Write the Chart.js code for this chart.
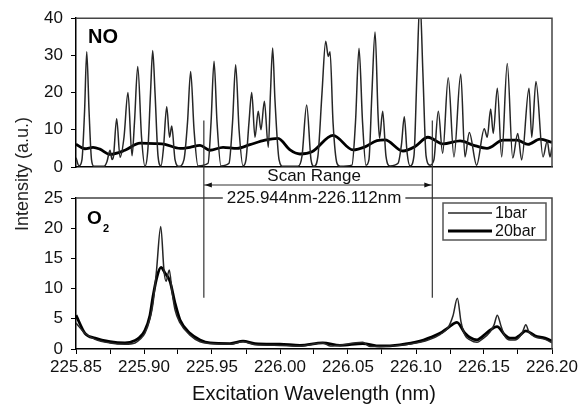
<!DOCTYPE html>
<html lang="en">
<head>
  <meta charset="UTF-8">
  <title>NO / O2 excitation spectra</title>
  <script src="https://cdn.jsdelivr.net/npm/chart.js"></script>
  <style>
    body { margin: 0; background: #fff; }
    #wrap { position: relative; width: 581px; height: 407px; }
    #wrap canvas { position: absolute; left: 0; top: 0; }
  </style>
</head>
<body>
  <div id="wrap">
    <canvas id="noChart" width="581" height="407"></canvas>
    <canvas id="o2Chart" width="581" height="407"></canvas>
  </div>

  <script>
    // NO, 1 bar (thin line)
    const noWave1 = [
      225.8500, 225.8522, 225.8544, 225.8563, 225.8579, 225.8596, 225.8614, 225.8632, 225.8706, 225.8728,
      225.8750, 225.8765, 225.8776, 225.8799, 225.8824, 225.8853, 225.8882, 225.8912, 225.8930, 225.8954,
      225.8982, 225.9007, 225.9029, 225.9048, 225.9064, 225.9081, 225.9103, 225.9125, 225.9143, 225.9167,
      225.9188, 225.9204, 225.9228, 225.9257, 225.9294, 225.9320, 225.9343, 225.9368, 225.9397, 225.9471,
      225.9493, 225.9515, 225.9537, 225.9566, 225.9625, 225.9651, 225.9674, 225.9699, 225.9728, 225.9750,
      225.9772, 225.9792, 225.9816, 225.9840, 225.9860, 225.9885, 225.9914, 225.9930, 225.9946, 225.9963,
      225.9993, 226.0022, 226.0132, 226.0162, 226.0196, 226.0228, 226.0250, 226.0279, 226.0309, 226.0336,
      226.0355, 226.0368, 226.0390, 226.0419, 226.0441, 226.0529, 226.0555, 226.0581, 226.0607, 226.0632,
      226.0654, 226.0676, 226.0699, 226.0721, 226.0732, 226.0755, 226.0779, 226.0809, 226.0868, 226.0893,
      226.0914, 226.0934, 226.0956, 226.0985, 226.1007, 226.1029, 226.1051, 226.1074, 226.1103, 226.1132,
      226.1164, 226.1196, 226.1237, 226.1279, 226.1329, 226.1360, 226.1392, 226.1446, 226.1502, 226.1524,
      226.1549, 226.1568, 226.1598, 226.1630, 226.1671, 226.1711, 226.1748, 226.1777, 226.1831, 226.1851,
      226.1882, 226.1934, 226.1965, 226.1985, 226.2000
    ];
    const noInt1 = [
      2.5, 0.3, 2, 15, 31, 15, 2, 0.2, 0.2, 1.5,
      4.5, 2, 3, 13, 2.6, 8, 20, 3, 12, 27,
      8, 0.2, 5, 20, 31.3, 20, 3, 0.3, 5, 16.2,
      8, 11, 2, 0.2, 2, 12, 25.7, 10, 0.3, 1,
      12, 28.4, 12, 0.3, 1, 12, 27.5, 10, 0.3, 2,
      12, 20, 8, 15, 10, 17.7, 5.3, 20, 32, 18,
      2, 0.2, 0.2, 3, 16.7, 2, 0.2, 3, 20, 33.8,
      29.7, 31, 12, 1, 0.2, 0.5, 12, 31.9, 12, 0.5,
      2, 20, 36.3, 14, 7.7, 15, 3, 0.3, 1, 6,
      13.5, 4, 0.3, 3, 25, 45, 25, 3, 0.5, 2,
      15, 3.7, 24, 2.7, 25, 2.7, 9.3, 0.5, 10.3, 8,
      15.6, 9, 21.2, 2.7, 27.8, 2.4, 9, 1.9, 21.2, 8,
      23, 2.7, 7, 2.7, 5.3
    ];

    // NO, 20 bar (thick line)
    const noWave20 = [
      225.8500, 225.8566, 225.8625, 225.8676, 225.8750, 225.8860, 225.8971, 225.9081, 225.9154, 225.9265,
      225.9338, 225.9412, 225.9485, 225.9581, 225.9684, 225.9779, 225.9890, 225.9985, 226.0074, 226.0147,
      226.0235, 226.0390, 226.0537, 226.0625, 226.0713, 226.0772, 226.0904, 226.0993, 226.1088, 226.1199,
      226.1324, 226.1419, 226.1522, 226.1640, 226.1743, 226.1824, 226.1912, 226.2000
    ];
    const noInt20 = [
      6.1, 4.9, 5.3, 4.8, 3.4, 4.5, 6.4, 6.3, 6.1, 5.0,
      5.3, 5.8, 4.5, 5.3, 5.0, 6.0, 7.2, 7.7, 4.6, 3.5,
      4.1, 8.5, 4.6, 5.4, 7.1, 7.3, 4.3, 5.5, 8.0, 6.2,
      7.0, 5.9, 5.0, 7.2, 7.2, 6.1, 7.5, 6.6
    ];

    // O2, 1 bar (thin line)
    const o2Wave1 = [
      225.8500, 225.8566, 225.8640, 225.8750, 225.8860, 225.8934, 225.8971, 225.9007, 225.9044, 225.9066,
      225.9092, 225.9123, 225.9147, 225.9162, 225.9186, 225.9206, 225.9228, 225.9265, 225.9338, 225.9412,
      225.9485, 225.9632, 225.9728, 225.9816, 226.0000, 226.0147, 226.0314, 226.0368, 226.0608, 226.0662,
      226.0882, 226.1029, 226.1103, 226.1176, 226.1235, 226.1272, 226.1304, 226.1331, 226.1360, 226.1397,
      226.1449, 226.1485, 226.1544, 226.1574, 226.1598, 226.1625, 226.1654, 226.1691, 226.1728, 226.1765,
      226.1787, 226.1807, 226.1831, 226.1875, 226.1949, 226.2000
    ];
    const o2Int1 = [
      4.3, 2.6, 1.6, 1.0, 0.8, 1.0, 1.6, 2.6, 5.0, 7.5,
      13, 20.3, 13, 11.2, 13.1, 9.5, 6.5, 4.3, 2.3, 1.2,
      0.9, 0.8, 1.2, 0.7, 0.6, 0.5, 1.0, 0.5, 1.1, 0.4,
      0.6, 1.1, 1.6, 2.4, 3.5, 5.5, 8.4, 4.5, 2.3, 1.5,
      1.1, 1.6, 2.8, 4.0, 5.6, 3.8, 2.1, 1.5, 1.5, 2.1,
      3.0, 4.0, 2.8, 2.0, 1.6, 1.0
    ];

    // O2, 20 bar (thick line)
    const o2Wave20 = [
      225.8500, 225.8566, 225.8640, 225.8750, 225.8860, 225.8934, 225.8971, 225.9007, 225.9044, 225.9066,
      225.9096, 225.9125, 225.9154, 225.9191, 225.9228, 225.9265, 225.9338, 225.9412, 225.9485, 225.9632,
      225.9728, 225.9816, 226.0000, 226.0147, 226.0314, 226.0441, 226.0608, 226.0735, 226.0882, 226.1029,
      226.1103, 226.1176, 226.1235, 226.1301, 226.1360, 226.1397, 226.1449, 226.1485, 226.1544, 226.1596,
      226.1654, 226.1691, 226.1728, 226.1765, 226.1807, 226.1875, 226.1949, 226.2000
    ];
    const o2Int20 = [
      5.6, 2.6, 1.8, 1.2, 1.0, 1.4, 2.0, 3.1, 5.6, 8.7,
      12.0, 13.5, 12.6, 11.2, 7.6, 4.8, 2.6, 1.5, 1.0, 0.9,
      1.3, 0.9, 0.8, 0.6, 1.0, 0.6, 0.9, 0.5, 0.7, 1.3,
      1.9, 2.6, 3.5, 4.4, 2.6, 1.9, 1.5, 2.0, 3.1, 3.7,
      2.3, 1.8, 1.8, 2.3, 3.0, 2.2, 1.8, 1.3
    ];

    const xMin = 225.85, xMax = 226.20;
    const seriesLabels = ['1bar', '20bar'];
    const scanStart = 225.944, scanEnd = 226.112;
    const scanTopValue = 12.5;   // where the scan lines start, NO panel
    const scanBottomValue = 8.5; // where they end, O2 panel

    const FONT = "'Liberation Sans', Arial, sans-serif";
    Chart.defaults.font.family = FONT;
    Chart.defaults.color = '#111';
    Chart.defaults.animation = false;

    const toPoints = (xs, ys) => xs.map((x, i) => ({ x, y: ys[i] }));

    const thinStyle = { borderColor: '#262626', borderWidth: 1.5 };
    const thickStyle = { borderColor: '#000', borderWidth: 2.8 };

    function lineSet(label, xs, ys, style) {
      return Object.assign({
        label,
        data: toPoints(xs, ys),
        pointRadius: 0,
        fill: false,
        cubicInterpolationMode: 'monotone'
      }, style);
    }

    // y axis: minor ticks between labelled ones
    function yAxis(max, step) {
      return {
        min: 0, max,
        afterFit(s) { s.width = 76; },
        border: { display: true, color: '#000', width: 1.5 },
        grid: { drawOnChartArea: false, drawTicks: true, tickLength: 5, color: '#000' },
        ticks: {
          stepSize: step / 2,
          padding: 8,
          font: { size: 17 },
          callback: v => (Math.round(v * 10) % Math.round(step * 10) === 0 ? String(v) : '')
        }
      };
    }

    function drawFrame(chart) {
      const { ctx, chartArea: a } = chart;
      ctx.save();
      ctx.strokeStyle = '#444';
      ctx.lineWidth = 1.5;
      ctx.beginPath();
      ctx.moveTo(a.left, a.top);
      ctx.lineTo(a.right, a.top);
      ctx.lineTo(a.right, a.bottom);
      ctx.stroke();
      ctx.restore();
    }

    const noDecor = {
      id: 'noDecor',
      afterDraw(chart) {
        const { ctx, chartArea: a } = chart;
        drawFrame(chart);
        ctx.save();
        ctx.fillStyle = '#000';
        ctx.font = 'bold 20px ' + FONT;
        ctx.textBaseline = 'middle';
        ctx.fillText('NO', a.left + 12, a.top + 19);
        ctx.restore();
      }
    };

    const noChart = new Chart(document.getElementById('noChart'), {
      type: 'line',
      data: {
        datasets: [
          lineSet(seriesLabels[0], noWave1, noInt1, thinStyle),
          lineSet(seriesLabels[1], noWave20, noInt20, thickStyle)
        ]
      },
      options: {
        responsive: false,
        layout: { padding: { top: 16, right: 29, bottom: 0, left: 0 } },
        plugins: { legend: { display: false }, tooltip: { enabled: false } },
        scales: {
          x: {
            type: 'linear', min: xMin, max: xMax,
            afterFit(s) { s.height = 240; },
            border: { display: true, color: '#000', width: 1.5 },
            grid: { display: false },
            ticks: { display: false }
          },
          y: yAxis(40, 10)
        }
      },
      plugins: [noDecor]
    });

    const o2Decor = {
      id: 'o2Decor',
      afterDraw(chart) {
        const { ctx, chartArea: a } = chart;
        drawFrame(chart);
        ctx.save();

        // panel label
        ctx.fillStyle = '#000';
        ctx.textBaseline = 'middle';
        ctx.font = 'bold 19px ' + FONT;
        ctx.fillText('O', a.left + 11, a.top + 21);
        ctx.font = 'bold 11px ' + FONT;
        ctx.fillText('2', a.left + 27, a.top + 31);

        // y title, shared by both panels
        ctx.font = '18px ' + FONT;
        ctx.fillStyle = '#222';
        ctx.textAlign = 'center';
        ctx.save();
        ctx.translate(23, 174);
        ctx.rotate(-Math.PI / 2);
        ctx.fillText('Intensity (a.u.)', 0, 0);
        ctx.restore();

        // legend
        const lx = a.right - 109, ly = a.top + 5, lw = 103, lh = 37;
        ctx.strokeStyle = '#555';
        ctx.lineWidth = 1.5;
        ctx.strokeRect(lx, ly, lw, lh);
        const rows = [[seriesLabels[0], thinStyle], [seriesLabels[1], thickStyle]];
        ctx.textAlign = 'left';
        ctx.font = '16px ' + FONT;
        rows.forEach(([label, st], i) => {
          const y = ly + 10 + i * 18;
          ctx.strokeStyle = st.borderColor;
          ctx.lineWidth = st.borderWidth;
          ctx.beginPath();
          ctx.moveTo(lx + 5, y);
          ctx.lineTo(lx + 49, y);
          ctx.stroke();
          ctx.fillStyle = '#111';
          ctx.fillText(label, lx + 52, y + 1);
        });

        // scan range marker
        const xs = chart.scales.x;
        const x1 = xs.getPixelForValue(scanStart);
        const x2 = xs.getPixelForValue(scanEnd);
        const yTop = noChart.scales.y.getPixelForValue(scanTopValue);
        const yBot = chart.scales.y.getPixelForValue(scanBottomValue);
        ctx.strokeStyle = '#333';
        ctx.lineWidth = 1.2;
        ctx.beginPath();
        ctx.moveTo(x1, yTop); ctx.lineTo(x1, yBot);
        ctx.moveTo(x2, yTop); ctx.lineTo(x2, yBot);
        const ay = a.top - 13;
        ctx.moveTo(x1, ay); ctx.lineTo(x2, ay);
        ctx.stroke();
        ctx.fillStyle = '#111';
        ctx.beginPath();
        ctx.moveTo(x1 + 1, ay); ctx.lineTo(x1 + 8, ay - 2.5); ctx.lineTo(x1 + 8, ay + 2.5); ctx.closePath();
        ctx.moveTo(x2 - 1, ay); ctx.lineTo(x2 - 8, ay - 2.5); ctx.lineTo(x2 - 8, ay + 2.5); ctx.closePath();
        ctx.fill();

        ctx.textAlign = 'center';
        ctx.font = '17px ' + FONT;
        const cx = (x1 + x2) / 2 - 4;
        ctx.fillText('Scan Range', cx, a.top - 22);
        const rangeText = scanStart.toFixed(3) + 'nm-' + scanEnd.toFixed(3) + 'nm';
        const w = ctx.measureText(rangeText).width;
        ctx.fillStyle = '#fff';
        ctx.fillRect(cx - w / 2 - 4, a.top - 8, w + 8, 16);
        ctx.fillStyle = '#111';
        ctx.fillText(rangeText, cx, a.top);
        ctx.restore();
      }
    };

    new Chart(document.getElementById('o2Chart'), {
      type: 'line',
      data: {
        datasets: [
          lineSet(seriesLabels[0], o2Wave1, o2Int1, thinStyle),
          lineSet(seriesLabels[1], o2Wave20, o2Int20, thickStyle)
        ]
      },
      options: {
        responsive: false,
        layout: { padding: { top: 198, right: 29, bottom: 0, left: 0 } },
        plugins: { legend: { display: false }, tooltip: { enabled: false } },
        scales: {
          x: {
            type: 'linear', min: xMin, max: xMax,
            afterFit(s) { s.height = 58; },
            border: { display: true, color: '#000', width: 1.5 },
            grid: { drawOnChartArea: false, drawTicks: true, tickLength: 5, color: '#000' },
            ticks: {
              stepSize: 0.025,
              autoSkip: false,
              maxRotation: 0,
              padding: 3,
              font: { size: 17 },
              callback: v => {
                const m = Math.round(v * 1000);
                return m % 50 === 0 ? (m / 1000).toFixed(2) : '';
              }
            },
            title: {
              display: true,
              text: 'Excitation Wavelength (nm)',
              font: { size: 20 },
              padding: { top: 0, bottom: 1 }
            }
          },
          y: yAxis(25, 5)
        }
      },
      plugins: [o2Decor]
    });
  </script>
</body>
</html>
